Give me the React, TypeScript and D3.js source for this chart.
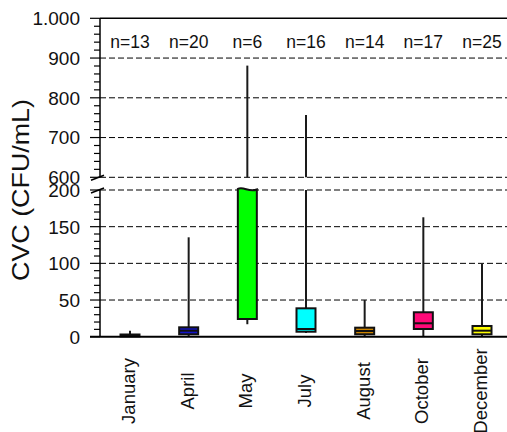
import React from "react";
import * as d3 from "d3";

const months = ["January", "April", "May", "July", "August", "October", "December"];
const counts = [13, 20, 6, 16, 14, 17, 25];
const mins = [0, 1, 17, 5, 1, 0, 0];
const q1s = [0.5, 3.3, 24, 6.8, 3.3, 10.5, 3.3];
const medians = [1, 8.2, 260, 10.5, 7.8, 18.3, 8.2];
const q3s = [3, 12.8, 420, 38.7, 12.3, 33.3, 14.6];
const maxs = [8, 135.5, 881, 757, 50, 162.8, 99];
const colors = ["#303030", "#1414c8", "#00ff00", "#00ffff", "#cc8400", "#ff0a78", "#ffff00"];

const lowTicks = [0, 50, 100, 150, 200];
const highTicks = [600, 700, 800, 900, 1000];
const highTickLabels = ["600", "700", "800", "900", "1.000"];

const FONT = "Liberation Sans, Arial, Helvetica, sans-serif";

export default function App() {
  const W = 507, H = 432;
  const x = d3.scalePoint<string>().domain(months).range([130, 482]);
  const yLow = d3.scaleLinear().domain([0, 200]).range([336.7, 190]);
  const yHigh = d3.scaleLinear().domain([600, 1000]).range([177.3, 18.3]);
  const axisX = 100;
  const right = W;
  const boxW = 19;

  const lowMinor = d3.range(0, 201, 10);
  const highMinor = d3.range(600, 1001, 20);

  const clampLow = (v: number) => yLow(Math.min(v, 200));

  return (
    <svg width={W} height={H} style={{ position: "absolute", left: 0, top: 0 }} fontFamily={FONT}>
      <rect width={W} height={H} fill="#fff" />
      {/* gridlines */}
      {lowTicks.filter(t => t > 0).map(t => (
        <line key={"gl" + t} x1={axisX} x2={right} y1={yLow(t)} y2={yLow(t)} stroke="#000" strokeWidth={1} strokeDasharray="6,3" />
      ))}
      {highTicks.filter(t => t < 1000).map(t => (
        <line key={"gh" + t} x1={axisX} x2={right} y1={yHigh(t)} y2={yHigh(t)} stroke="#000" strokeWidth={1} strokeDasharray="6,3" />
      ))}
      {/* top frame */}
      <line x1={axisX} x2={right} y1={yHigh(1000)} y2={yHigh(1000)} stroke="#000" strokeWidth={1.5} />

      {/* boxes */}
      {months.map((m, i) => {
        const cx = x(m)!;
        const x0 = cx - boxW / 2;
        const els: React.ReactNode[] = [];
        // lower whisker segment
        els.push(<line key="wl" x1={cx} x2={cx} y1={clampLow(mins[i])} y2={clampLow(maxs[i])} stroke="#1a1a1a" strokeWidth={2} />);
        if (maxs[i] > 600) {
          els.push(<line key="wh" x1={cx} x2={cx} y1={yHigh(600)} y2={yHigh(maxs[i])} stroke="#1a1a1a" strokeWidth={2} />);
        }
        const yb = clampLow(q1s[i]);
        if (q3s[i] > 200) {
          const yt = yLow(200);
          const w = boxW;
          const d = `M${x0},${yb} L${x0},${yt - 1} C${x0 + w * 0.3},${yt - 4} ${x0 + w * 0.6},${yt + 3} ${x0 + w},${yt - 0.5} L${x0 + w},${yb} Z`;
          els.push(<path key="b" d={d} fill={colors[i]} stroke="#111" strokeWidth={2} />);
        } else {
          const yt = yLow(q3s[i]);
          els.push(<rect key="b" x={x0} y={yt} width={boxW} height={Math.max(yb - yt, 0.5)} fill={colors[i]} stroke="#111" strokeWidth={2} />);
        }
        if (medians[i] <= 200) {
          els.push(<line key="md" x1={x0} x2={x0 + boxW} y1={yLow(medians[i])} y2={yLow(medians[i])} stroke="#111" strokeWidth={2} />);
        }
        return <g key={m}>{els}</g>;
      })}

      {/* y axis */}
      <line x1={axisX} x2={axisX} y1={yHigh(1000)} y2={yHigh(600)} stroke="#000" strokeWidth={1.5} />
      <line x1={axisX} x2={axisX} y1={yLow(200)} y2={yLow(0)} stroke="#000" strokeWidth={1.5} />
      {highMinor.map(t => (
        <line key={"hm" + t} x1={axisX - (t % 100 === 0 ? 10 : 6)} x2={axisX} y1={yHigh(t)} y2={yHigh(t)} stroke="#000" strokeWidth={1.2} />
      ))}
      {lowMinor.map(t => (
        <line key={"lm" + t} x1={axisX - (t % 50 === 0 ? 10 : 6)} x2={axisX} y1={yLow(t)} y2={yLow(t)} stroke="#000" strokeWidth={1.2} />
      ))}
      {/* break marks */}
      <line x1={91} x2={104} y1={yHigh(600) + 3} y2={yHigh(600) - 2} stroke="#000" strokeWidth={1.5} />
      <line x1={91} x2={104} y1={yLow(200) + 3} y2={yLow(200) - 2} stroke="#000" strokeWidth={1.5} />

      {highTicks.map((t, i) => (
        <text key={"th" + t} x={80} y={yHigh(t)} dy="0.36em" textAnchor="end" fontSize={19} fill="#111">{highTickLabels[i]}</text>
      ))}
      {lowTicks.map(t => (
        <text key={"tl" + t} x={80} y={yLow(t)} dy="0.36em" textAnchor="end" fontSize={19} fill="#111">{t}</text>
      ))}

      {/* x axis */}
      <line x1={90} x2={right} y1={yLow(0)} y2={yLow(0)} stroke="#000" strokeWidth={2} />

      {/* n labels */}
      {months.map((m, i) => (
        <text key={"n" + m} x={x(m)!} y={48} textAnchor="middle" fontSize={17.5} fill="#111">{"n=" + counts[i]}</text>
      ))}

      {/* x labels */}
      {months.map(m => (
        <text key={"x" + m} transform={`translate(${x(m)! + 5},391) rotate(-90)`} textAnchor="middle" fontSize={18.5} fill="#111">{m}</text>
      ))}

      {/* y label */}
      <text transform={`translate(29,190) rotate(-90)`} textAnchor="middle" fontSize={24} textLength={182} lengthAdjust="spacingAndGlyphs" fill="#111">CVC (CFU/mL)</text>
    </svg>
  );
}
